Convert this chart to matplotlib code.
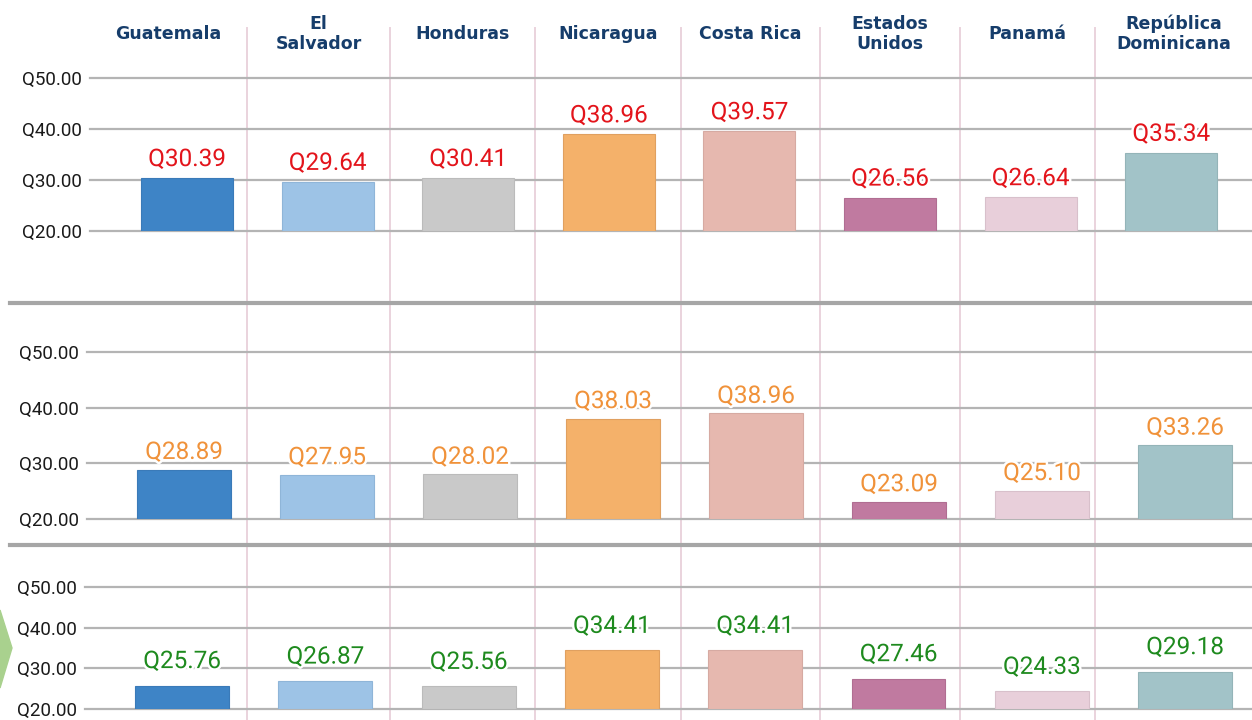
import matplotlib.pyplot as plt
import matplotlib.patheffects as pe
from matplotlib.lines import Line2D
from matplotlib.patches import Polygon

# Datos
paises = ['Guatemala', 'El\nSalvador', 'Honduras', 'Nicaragua', 'Costa Rica',
          'Estados\nUnidos', 'Panamá', 'República\nDominicana']
fila_roja = [30.39, 29.64, 30.41, 38.96, 39.57, 26.56, 26.64, 35.34]
fila_naranja = [28.89, 27.95, 28.02, 38.03, 38.96, 23.09, 25.10, 33.26]
fila_verde = [25.76, 26.87, 25.56, 34.41, 34.41, 27.46, 24.33, 29.18]
ticks_y = [20, 30, 40, 50]

colores = ['#3E84C6', '#9DC3E6', '#C9C9C9', '#F4B16A', '#E6B8AF',
           '#C07AA0', '#E8CFDA', '#A2C3C8']
bordes = ['#3A7AB8', '#8FB5D8', '#BBBBBB', '#E0A060', '#D6AAA2',
          '#B06E92', '#D8C0CB', '#94B4B8']

W, H = 1252, 720
fig = plt.figure(figsize=(W / 100, H / 100), dpi=100)

cond = ['Roboto', 'DejaVu Sans']

# (valores, izq_px, y_Q20_px, y_Q50_px, centro0_px, paso_px, color etiqueta, offset pt)
filas = [
    (fila_roja, 90, 231, 78, 187, 140.6, '#E3141B', 5),
    (fila_naranja, 87, 519, 352, 184, 143.0, '#F0923A', 4),
    (fila_verde, 85, 709, 587, 182, 143.3, '#1E8A1E', 9),
]

# separadores verticales (rosa) y horizontales (gris)
sep_px = [247, 390, 535, 681, 820, 960, 1095]
for x in sep_px:
    fig.add_artist(Line2D([x / W, x / W], [0, 1 - 28 / H], color='#EAD3DD',
                          lw=1.4, transform=fig.transFigure, zorder=0))
for y in [303, 545]:
    fig.add_artist(Line2D([10 / W, 1], [1 - y / H, 1 - y / H], color='#A6A6A6',
                          lw=3, transform=fig.transFigure, zorder=1))

for valores, izq, y20, y50, c0, paso, col_txt, off in filas:
    ax = fig.add_axes([izq / W, 1 - y20 / H, 1 - izq / W, (y20 - y50) / H])
    ax.patch.set_alpha(0)
    x = list(range(len(valores)))
    for t in ticks_y:
        ax.axhline(t, color='#B4B4B4', lw=1.6, zorder=1, clip_on=False)
    ax.bar(x, [v - 20 for v in valores], bottom=20, width=0.655,
           color=colores, edgecolor=bordes, linewidth=0.8, zorder=2)
    for xi, v in zip(x, valores):
        ax.annotate(f'Q{v:.2f}', (xi, v), xytext=(0, off),
                    textcoords='offset points', ha='center', va='bottom',
                    fontsize=17.5, color=col_txt, family=cond, zorder=3,
                    path_effects=[pe.withStroke(linewidth=3.5, foreground='white')])
    ax.set_xlim((izq - c0) / paso, (W - c0) / paso)
    ax.set_ylim(20, 50)
    ax.set_yticks(ticks_y)
    ax.set_yticklabels([f'Q{t:.2f}' for t in ticks_y], family=cond, fontsize=13.5,
                       color='#1A1A1A')
    ax.tick_params(axis='y', length=0, pad=6)
    ax.set_xticks([])
    for s in ax.spines.values():
        s.set_visible(False)

# encabezados de países
bordes_col = [90] + sep_px + [W]
for i, nombre in enumerate(paises):
    cx = (bordes_col[i] + bordes_col[i + 1]) / 2
    fig.text(cx / W, 1 - 34 / H, nombre, ha='center', va='center',
             fontsize=12.5, fontweight='bold', color='#163D6B',
             family='DejaVu Sans', linespacing=1.15)

# marca verde a la izquierda
fig.add_artist(Polygon([[0, 1 - 610 / H], [12 / W, 1 - 648 / H], [0, 1 - 688 / H]],
                       closed=True, color='#A9D18E', transform=fig.transFigure))

fig.savefig('out.png', dpi=100)
